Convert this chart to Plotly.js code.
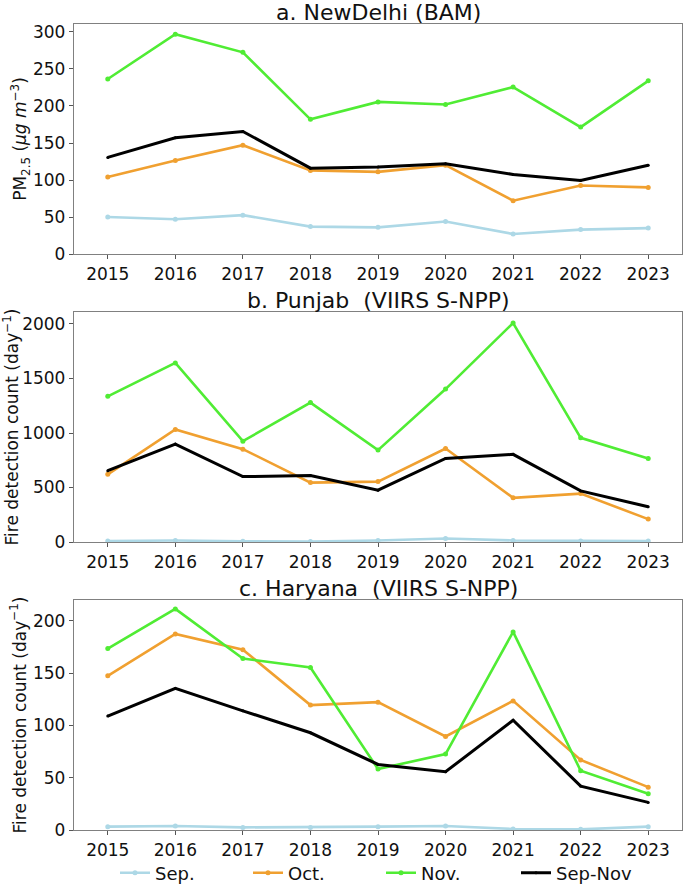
<!DOCTYPE html>
<html>
<head>
<meta charset="utf-8">
<script src="https://cdn.plot.ly/plotly-3.0.1.min.js"></script>
<style>html,body{margin:0;padding:0;background:#fff;}#chart{width:685px;height:886px;}</style>
</head>
<body>
<div id="chart"></div>
<script>
// Data
const years = [2015, 2016, 2017, 2018, 2019, 2020, 2021, 2022, 2023];
const seriesNames = ["Sep.", "Oct.", "Nov.", "Sep-Nov"];

// a. NewDelhi (BAM) PM2.5
const delhiSep   = [50, 47, 52.5, 37, 36, 44, 27, 33, 35];
const delhiOct   = [104, 126.5, 147, 113, 111, 120, 72, 92.5, 90];
const delhiNov   = [236.5, 297, 272.5, 182, 205.5, 202, 225.5, 171.5, 234];
const delhiAll   = [130.5, 157, 165.5, 116, 117.5, 122, 107.5, 99.5, 120];

// b. Punjab fire counts
const punjabSep  = [9, 14, 6, 4, 14, 32, 14, 9, 9];
const punjabOct  = [621, 1032, 852, 545, 554, 858, 405, 444, 210];
const punjabNov  = [1336, 1643, 925, 1279, 843, 1403, 2009, 956, 767];
const punjabAll  = [654, 898, 600, 609, 475, 767, 804, 469, 323];

// c. Haryana fire counts
const haryanaSep = [3.2, 3.8, 2.5, 2.5, 3.2, 3.8, 1, 0.6, 3.2];
const haryanaOct = [147.5, 187.5, 172.5, 119.5, 122.3, 89.5, 123.5, 67, 41];
const haryanaNov = [173.6, 211.5, 164, 155.4, 58.3, 72.6, 189.5, 56.7, 34.7];
const haryanaAll = [109, 135.4, 114, 93, 62.7, 55.7, 105, 42, 26.4];

const panelTitles = ["a. NewDelhi (BAM)", "b. Punjab  (VIIRS S-NPP)", "c. Haryana  (VIIRS S-NPP)"];
const yTitles = ["PM<sub>2.5</sub> (<i>μg m</i><sup>−3</sup>)", "Fire detection count (day<sup>−1</sup>)", "Fire detection count (day<sup>−1</sup>)"];

const colors = ["#ADD8E6", "#F0A030", "#50EC34", "#000000"];
const lineW = [2.6, 2.6, 2.6, 3];
const markSz = [5, 5, 5, 3];

const panels = [
  [delhiSep, delhiOct, delhiNov, delhiAll],
  [punjabSep, punjabOct, punjabNov, punjabAll],
  [haryanaSep, haryanaOct, haryanaNov, haryanaAll]
];

const legendIds = ["legend", "legend2", "legend3", "legend4"];

const traces = [];
panels.forEach((p, pi) => {
  p.forEach((vals, si) => {
    traces.push({
      x: years, y: vals, type: "scatter", mode: "lines+markers",
      name: seriesNames[si], legendgroup: seriesNames[si],
      legend: legendIds[si],
      showlegend: pi === 2,
      line: {color: colors[si], width: lineW[si]},
      marker: {color: colors[si], size: markSz[si]},
      xaxis: pi === 0 ? "x" : "x" + (pi + 1),
      yaxis: pi === 0 ? "y" : "y" + (pi + 1)
    });
  });
});

const figW = 685, figH = 886, plotTop = 24, plotBottom = 830;
const plotH = plotBottom - plotTop;
function frac(px) { return (plotBottom - px) / plotH; }
const domains = [[frac(254), 1], [frac(542), frac(312)], [0, frac(600)]];
const yRanges = [[0, 310.8], [0, 2110], [0, 220]];
const yDticks = [50, 500, 50];

const baseFont = {family: "DejaVu Sans, sans-serif", size: 17, color: "#111"};

const layout = {
  width: figW, height: figH,
  margin: {l: 74, r: 3, t: plotTop, b: figH - plotBottom},
  paper_bgcolor: "#fff", plot_bgcolor: "#fff",
  font: baseFont,
  showlegend: true,
  annotations: []
};

const legendLeftPx = [115, 248, 381, 516];
legendIds.forEach((id, k) => {
  layout[id] = {
    orientation: "h", xref: "container", x: legendLeftPx[k] / figW, xanchor: "left",
    yref: "container", y: 1 - 873 / figH, yanchor: "middle",
    font: {family: "DejaVu Sans, sans-serif", size: 18, color: "#111"},
    bgcolor: "rgba(0,0,0,0)", borderwidth: 0
  };
});

for (let i = 0; i < 3; i++) {
  const sx = i === 0 ? "" : String(i + 1);
  layout["xaxis" + sx] = {
    domain: [0, 1], anchor: "y" + sx, range: [2014.5, 2023.5],
    tickmode: "array", tickvals: years, ticktext: years.map(String),
    ticks: "outside", ticklen: 4, tickcolor: "#555", tickwidth: 1,
    showgrid: false, zeroline: false,
    showline: true, linecolor: "#808080", linewidth: 1.2, mirror: true,
    tickfont: baseFont
  };
  layout["yaxis" + sx] = {
    domain: domains[i], anchor: "x" + sx, range: yRanges[i],
    dtick: yDticks[i], tick0: 0,
    ticks: "outside", ticklen: 4, tickcolor: "#555", tickwidth: 1,
    showgrid: false, zeroline: false,
    showline: true, linecolor: "#808080", linewidth: 1.2, mirror: true,
    tickfont: baseFont,
    title: {text: yTitles[i], font: baseFont, standoff: i === 0 ? 0 : 2}
  };
  layout.annotations.push({
    text: panelTitles[i], xref: "paper", yref: "paper",
    x: 0.5, y: domains[i][1], xanchor: "center", yanchor: "middle",
    yshift: 12, showarrow: false,
    font: {family: "DejaVu Sans, sans-serif", size: 22, color: "#111"}
  });
}

Plotly.newPlot("chart", traces, layout, {displayModeBar: false, staticPlot: true});
</script>
</body>
</html>
